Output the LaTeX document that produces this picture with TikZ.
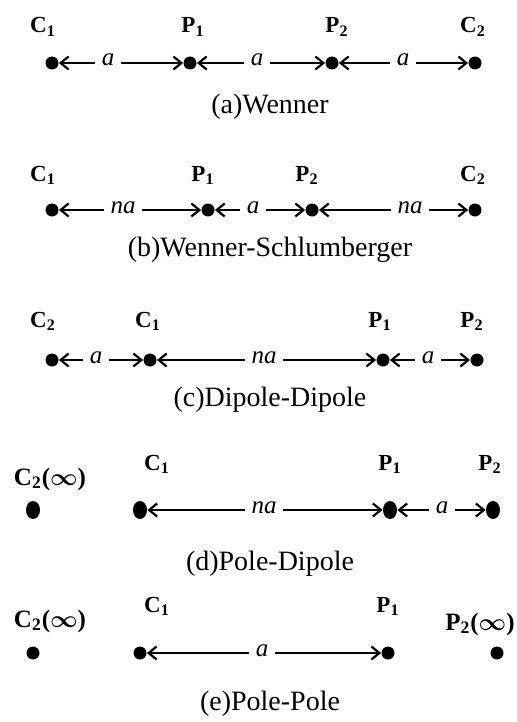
\documentclass[tikz,border=0pt]{standalone}
\usepackage{fontspec}
\setmainfont{Liberation Serif}
\usetikzlibrary{arrows.meta,shapes.geometric}
\usepackage{amsmath}
\newcommand{\elec}[2]{\textbf{#1\textsubscript{#2}}}
\newcommand{\farelec}[2]{\textbf{#1\textsubscript{#2}(}$\boldsymbol{\infty}$\textbf{)}}
\tikzset{
  electrode/.style={circle, fill=black, inner sep=0pt, minimum size=6.5pt},
  electrodeOval/.style={ellipse, fill=black, inner sep=0pt, minimum width=7pt, minimum height=9pt},
  elecLabel/.style={anchor=base, inner sep=0pt, font=\fontsize{11.5}{13}\selectfont},
  farLabel/.style={anchor=base, inner sep=0pt, font=\fontsize{12.5}{14}\selectfont},
  spanLabel/.style={inner xsep=3pt, inner ysep=0pt, minimum height=0pt, text height=3pt, text depth=0pt, font=\fontsize{12.5}{14}\selectfont\itshape},
  spanArrow/.style={-{Straight Barb[length=4pt,width=6.5pt]}, line width=1.1pt},
  captionText/.style={anchor=base, inner sep=0pt, font=\fontsize{14}{16}\selectfont}
}
\begin{document}
\begin{tikzpicture}[x=0.5pt,y=-0.5pt]
  \useasboundingbox (0,0) rectangle (517,722);
  % (a) Wenner
  \foreach \n/\x in {1/52,2/190,3/332,4/475}
    \node[electrode] (a\n) at (\x,63) {};
  \node[elecLabel] (aC1) at (43,33) {\elec{C}{1}};
  \node[elecLabel] (aP1) at (193,33) {\elec{P}{1}};
  \node[elecLabel] (aP2) at (337,33) {\elec{P}{2}};
  \node[elecLabel] (aC2) at (473,33) {\elec{C}{2}};
  \node[spanLabel] (aS1) at (108,63) {a};
  \node[spanLabel] (aS2) at (257,63) {a};
  \node[spanLabel] (aS3) at (403,63) {a};
  \foreach \s/\l/\r in {aS1/a1/a2,aS2/a2/a3,aS3/a3/a4} {
    \draw[spanArrow] (\s) -- (\l);
    \draw[spanArrow] (\s) -- (\r);
  }
  \node[captionText] (capA) at (270,113) {(a)Wenner};
  % (b) Wenner-Schlumberger
  \foreach \n/\x in {1/52,2/208,3/312,4/475}
    \node[electrode] (b\n) at (\x,210) {};
  \node[elecLabel] (bC1) at (43,181) {\elec{C}{1}};
  \node[elecLabel] (bP1) at (203,181) {\elec{P}{1}};
  \node[elecLabel] (bP2) at (307,181) {\elec{P}{2}};
  \node[elecLabel] (bC2) at (473,181) {\elec{C}{2}};
  \node[spanLabel] (bS1) at (123,210) {na};
  \node[spanLabel] (bS2) at (253,210) {a};
  \node[spanLabel] (bS3) at (410,210) {na};
  \foreach \s/\l/\r in {bS1/b1/b2,bS2/b2/b3,bS3/b3/b4} {
    \draw[spanArrow] (\s) -- (\l);
    \draw[spanArrow] (\s) -- (\r);
  }
  \node[captionText] (capB) at (270,256) {(b)Wenner-Schlumberger};
  % (c) Dipole-Dipole
  \foreach \n/\x in {1/52,2/150,3/383,4/477}
    \node[electrode] (c\n) at (\x,360) {};
  \node[elecLabel] (cC2) at (43,327) {\elec{C}{2}};
  \node[elecLabel] (cC1) at (148,327) {\elec{C}{1}};
  \node[elecLabel] (cP1) at (380,327) {\elec{P}{1}};
  \node[elecLabel] (cP2) at (472,327) {\elec{P}{2}};
  \node[spanLabel] (cS1) at (96,360) {a};
  \node[spanLabel] (cS2) at (264,360) {na};
  \node[spanLabel] (cS3) at (428,360) {a};
  \foreach \s/\l/\r in {cS1/c1/c2,cS2/c2/c3,cS3/c3/c4} {
    \draw[spanArrow] (\s) -- (\l);
    \draw[spanArrow] (\s) -- (\r);
  }
  \node[captionText] (capC) at (270,406) {(c)Dipole-Dipole};
  % (d) Pole-Dipole
  \foreach \n/\x in {1/33,2/140,3/390,4/493}
    \node[electrodeOval] (d\n) at (\x,510) {};
  \node[farLabel] (dC2) at (50,485) {\farelec{C}{2}};
  \node[elecLabel] (dC1) at (157,470) {\elec{C}{1}};
  \node[elecLabel] (dP1) at (390,470) {\elec{P}{1}};
  \node[elecLabel] (dP2) at (490,470) {\elec{P}{2}};
  \node[spanLabel] (dS1) at (264,510) {na};
  \node[spanLabel] (dS2) at (442,510) {a};
  \foreach \s/\l/\r in {dS1/d2/d3,dS2/d3/d4} {
    \draw[spanArrow] (\s) -- (\l);
    \draw[spanArrow] (\s) -- (\r);
  }
  \node[captionText] (capD) at (270,570) {(d)Pole-Dipole};
  % (e) Pole-Pole
  \foreach \n/\x in {1/33,2/140,3/388,4/497}
    \node[electrode] (e\n) at (\x,653) {};
  \node[farLabel] (eC2) at (50,627) {\farelec{C}{2}};
  \node[elecLabel] (eC1) at (157,612) {\elec{C}{1}};
  \node[elecLabel] (eP1) at (388,612) {\elec{P}{1}};
  \node[farLabel, anchor=base east] (eP2) at (515,630) {\farelec{P}{2}};
  \node[spanLabel] (eS1) at (262,653) {a};
  \draw[spanArrow] (eS1) -- (e2);
  \draw[spanArrow] (eS1) -- (e3);
  \node[captionText] (capE) at (270,710) {(e)Pole-Pole};
\end{tikzpicture}
\end{document}
